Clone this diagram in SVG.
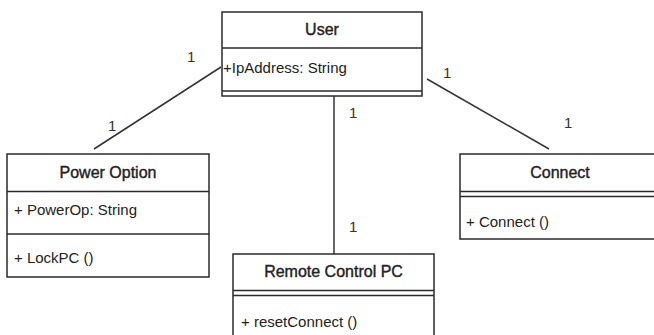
<svg xmlns="http://www.w3.org/2000/svg" width="654" height="335" viewBox="0 0 654 335">
  <style>
    .box { fill: #ffffff; stroke: #2a2a2a; stroke-width: 1.5; }
    .div { stroke: #2a2a2a; stroke-width: 1.5; fill: none; }
    .title { font-family: "Liberation Sans", Arial, sans-serif; font-size: 16px; fill: #222; stroke: #222; stroke-width: 0.4; text-anchor: middle; }
    .member { font-family: "Liberation Sans", Arial, sans-serif; font-size: 15px; fill: #222; }
    .mult { font-family: "Liberation Sans", Arial, sans-serif; font-size: 15px; fill: #333; }
    .assoc { stroke: #333; stroke-width: 1.5; fill: none; }
  </style>
  <rect width="654" height="335" fill="#ffffff"/>

  <!-- associations -->
  <g id="connectors">
    <line class="assoc" x1="221" y1="67" x2="94" y2="149"/>
    <line class="assoc" x1="427" y1="79" x2="549" y2="149"/>
    <line class="assoc" x1="334" y1="96" x2="334" y2="254"/>
    <text class="mult" x="187" y="62">1</text>
    <text class="mult" x="108" y="131">1</text>
    <text class="mult" x="443" y="78">1</text>
    <text class="mult" x="564" y="128">1</text>
    <text class="mult" x="349" y="118">1</text>
    <text class="mult" x="349" y="232">1</text>
  </g>

  <!-- User -->
  <g id="user">
    <rect class="box" x="222" y="12" width="200" height="84"/>
    <line class="div" x1="222" y1="48" x2="422" y2="48"/>
    <line class="div" x1="222" y1="91" x2="422" y2="91"/>
    <text class="title" x="322" y="35">User</text>
    <text class="member" x="223" y="73">+IpAddress: String</text>
  </g>

  <!-- Power Option -->
  <g id="power-option">
    <rect class="box" x="7" y="154" width="202" height="123"/>
    <line class="div" x1="7" y1="191.5" x2="209" y2="191.5"/>
    <line class="div" x1="7" y1="234" x2="209" y2="234"/>
    <text class="title" x="108" y="178">Power Option</text>
    <text class="member" x="14" y="215">+ PowerOp: String</text>
    <text class="member" x="14" y="263">+ LockPC ()</text>
  </g>

  <!-- Connect -->
  <g id="connect">
    <rect class="box" x="460" y="154" width="202" height="85"/>
    <line class="div" x1="460" y1="191.5" x2="662" y2="191.5"/>
    <line class="div" x1="460" y1="196.5" x2="662" y2="196.5"/>
    <text class="title" x="560" y="178">Connect</text>
    <text class="member" x="466" y="227">+ Connect ()</text>
  </g>

  <!-- Remote Control PC -->
  <g id="remote-control-pc">
    <rect class="box" x="233" y="254" width="201" height="90"/>
    <line class="div" x1="233" y1="290.5" x2="434" y2="290.5"/>
    <line class="div" x1="233" y1="295.5" x2="434" y2="295.5"/>
    <text class="title" x="333.5" y="277">Remote Control PC</text>
    <text class="member" x="241" y="327">+ resetConnect ()</text>
  </g>
</svg>
